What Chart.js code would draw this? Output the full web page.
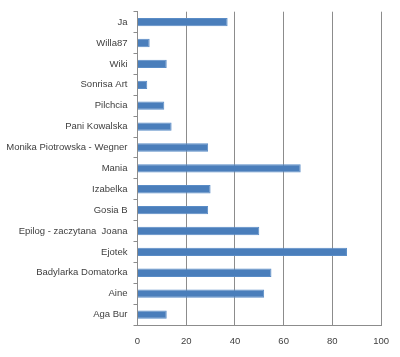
<!DOCTYPE html>
<html>
<head>
<meta charset="utf-8">
<script src="https://cdn.jsdelivr.net/npm/chart.js@4/dist/chart.umd.min.js"></script>
<style>
html,body{margin:0;padding:0;background:#fff;}
#wrap{width:400px;height:357px;position:relative;}
</style>
</head>
<body>
<div id="wrap"><canvas id="c" width="400" height="357"></canvas></div>
<script>
const categories = ["Ja","Willa87","Wiki","Sonrisa Art","Pilchcia","Pani Kowalska","Monika Piotrowska - Wegner","Mania","Izabelka","Gosia B","Epilog - zaczytana  Joana","Ejotek","Badylarka Domatorka","Aine","Aga Bur"];
const values = [37,5,12,4,11,14,29,67,30,29,50,86,55,52,12];
const xTicks = [0,20,40,60,80,100];

new Chart(document.getElementById('c'), {
  type: 'bar',
  data: {
    labels: categories,
    datasets: [{
      data: values,
      backgroundColor: '#4a7ebb',
      borderColor: '#5a8cc6',
      borderWidth: 1,
      categoryPercentage: 1,
      barPercentage: 0.4
    }]
  },
  options: {
    indexAxis: 'y',
    responsive: false,
    animation: false,
    layout: { padding: { left: 0, right: 17, top: 9, bottom: 0 } },
    plugins: { legend: { display: false }, tooltip: { enabled: false } },
    scales: {
      x: {
        min: xTicks[0], max: xTicks[xTicks.length-1],
        afterBuildTicks: (ax) => { ax.ticks = xTicks.map(v => ({value: v})); },
        grid: { color: '#8c8c8c', drawTicks: false, lineWidth: 1 },
        border: { color: '#8c8c8c' },
        ticks: { color: '#404040', font: { family: 'Liberation Sans', size: 9.5 }, padding: 11 },
        afterFit: (ax) => { ax.height = 32; }
      },
      y: {
        grid: { display: true, drawOnChartArea: false, offset: true, color: '#8c8c8c', tickLength: 4 },
        border: { color: '#8c8c8c' },
        ticks: { color: '#404040', font: { family: 'Liberation Sans', size: 9.5 }, padding: 6 },
        afterFit: (ax) => { ax.width = 137.5; }
      }
    }
  }
});
</script>
</body>
</html>
